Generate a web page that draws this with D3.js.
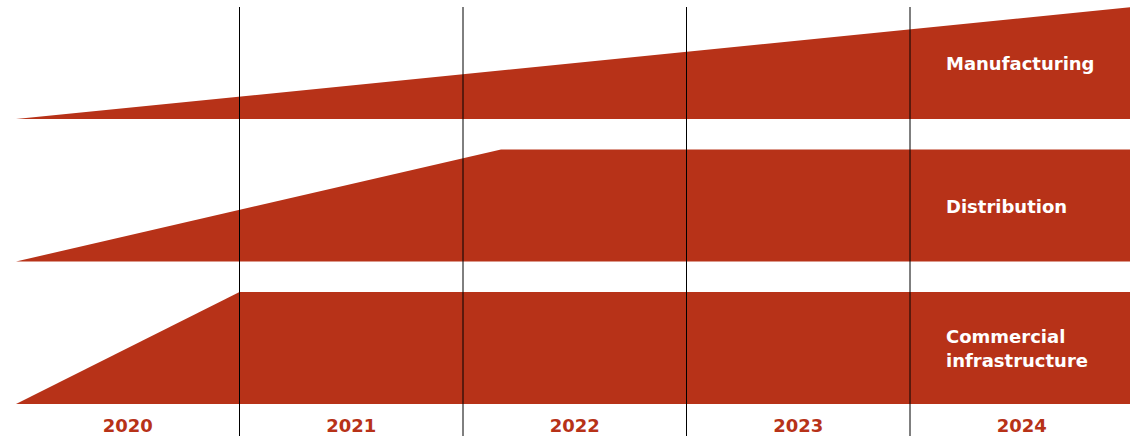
<!DOCTYPE html>
<html>
<head>
<meta charset="utf-8">
<script src="https://cdn.jsdelivr.net/npm/d3@7"></script>
<style>
  html, body { margin: 0; padding: 0; background: #fff; }
  svg { display: block; }
</style>
</head>
<body>
<svg id="chart" width="1130" height="436"></svg>
<script>
// ---- Data ----
const years = ["2020", "2021", "2022", "2023", "2024"];
const sectors = ["Manufacturing", "Distribution", "Commercial infrastructure"];
const manufacturingTime = [2020, 2025];
const manufacturingValue = [0, 100];
const distributionTime = [2020, 2022.17, 2025];
const distributionValue = [0, 100, 100];
const commercialTime = [2020, 2021, 2025];
const commercialValue = [0, 100, 100];
const sectorLabelLines = [["Manufacturing"], ["Distribution"], ["Commercial", "infrastructure"]];

const series = [
  { name: sectors[0], pts: manufacturingTime.map((t, i) => ({ t, v: manufacturingValue[i] })) },
  { name: sectors[1], pts: distributionTime.map((t, i) => ({ t, v: distributionValue[i] })) },
  { name: sectors[2], pts: commercialTime.map((t, i) => ({ t, v: commercialValue[i] })) }
];

// ---- Layout ----
const W = 1130, H = 436;
const color = "#b73218";
const svg = d3.select("#chart");

const x = d3.scaleLinear().domain([2020, 2025]).range([16, 1133.5]);
const row = d3.scaleBand().domain(sectors).range([7, 404]).paddingInner(0.214);

// areas
series.forEach((s, i) => {
  const top = row(s.name), bottom = top + row.bandwidth();
  const y = d3.scaleLinear().domain([0, 100]).range([bottom, top]);
  const area = d3.area().x(d => x(d.t)).y0(bottom).y1(d => y(d.v));
  svg.append("path").datum(s.pts).attr("d", area).attr("fill", color);

  const lines = sectorLabelLines[i];
  const lh = 24;
  const cy = top + row.bandwidth() / 2;
  const t = svg.append("text")
    .attr("x", 946)
    .attr("y", cy - (lines.length - 1) * lh / 2 + 7)
    .attr("fill", "#fff")
    .attr("font-family", "'DejaVu Sans', sans-serif")
    .attr("font-weight", "bold")
    .attr("font-size", 18);
  lines.forEach((l, j) => {
    t.append("tspan").attr("x", 946).attr("dy", j === 0 ? 0 : lh).text(l);
  });
});

// vertical year dividers
svg.selectAll("line.div").data(years.slice(1)).enter().append("line")
  .attr("x1", d => x(+d)).attr("x2", d => x(+d))
  .attr("y1", 7).attr("y2", H)
  .attr("stroke", "#000").attr("stroke-width", 1);

// year labels
svg.selectAll("text.year").data(years).enter().append("text")
  .attr("x", d => x(+d + 0.5))
  .attr("y", 432)
  .attr("text-anchor", "middle")
  .attr("fill", color)
  .attr("font-family", "'DejaVu Sans', sans-serif")
  .attr("font-weight", "bold")
  .attr("font-size", 18)
  .text(d => d);
</script>
</body>
</html>
